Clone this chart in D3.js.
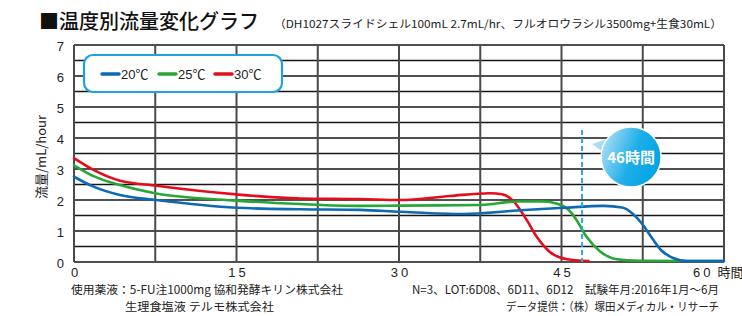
<!DOCTYPE html>
<html>
<head>
<meta charset="utf-8">
<script src="https://cdn.jsdelivr.net/npm/d3@7"></script>
<style>
  body { margin: 0; background: #fff; }
  svg { display: block; font-family: "Liberation Sans", Arial, "Noto Sans CJK JP", sans-serif; }
  .jp { font-family: "Noto Sans CJK JP", sans-serif; }
</style>
</head>
<body>
<div id="chart"></div>
<script>
// 20℃ (blue), 25℃ (green), 30℃ (red): hours vs flow mL/hour
const hours20 = [0, 1.8, 4.25, 7.6, 15, 20.9, 26.4, 30.1, 35.9, 40.9, 45.2, 48.9, 50.6, 51.6, 52.4, 53.3, 54.2, 55.3, 56.6, 60];
const flow20  = [2.75, 2.43, 2.16, 2.0, 1.75, 1.70, 1.68, 1.62, 1.55, 1.66, 1.75, 1.81, 1.76, 1.55, 1.25, 0.80, 0.38, 0.13, 0.03, 0.03];

const hours25 = [0, 1.8, 4.25, 7.6, 15, 20.9, 26.4, 30.1, 37.5, 40.9, 43.3, 44.6, 45.6, 46.4, 47.3, 48.6, 50.1, 52.2, 60];
const flow25  = [3.12, 2.77, 2.48, 2.21, 1.98, 1.87, 1.81, 1.82, 1.84, 1.95, 1.95, 1.88, 1.70, 1.35, 0.82, 0.33, 0.09, 0.04, 0.03];

const hours30 = [0, 1.8, 4.25, 7.6, 15, 20.9, 26.4, 30.1, 34.7, 38.4, 39.6, 40.6, 41.8, 42.7, 43.9, 45.5, 47.5];
const flow30  = [3.35, 2.97, 2.62, 2.46, 2.18, 2.05, 2.03, 2.0, 2.13, 2.22, 2.18, 1.95, 1.35, 0.82, 0.33, 0.09, 0.03];

const seriesNames = ['20℃', '25℃', '30℃'];
const seriesColors = ['#0c6ab4', '#27a737', '#e50c1c'];

const xTicks = [0, 15, 30, 45, 60];
const yTicks = [0, 1, 2, 3, 4, 5, 6, 7];
const markHour = 46.9;   // 46時間 dashed marker
const markLabel = '46時間';

const width = 742, height = 316;
const x = d3.scaleLinear().domain([0, 60]).range([74, 724]);
const y = d3.scaleLinear().domain([0, 7]).range([262, 45]);

const svg = d3.select('#chart').append('svg')
    .attr('width', width)
    .attr('height', height);

// title
svg.append('text')
    .attr('class', 'jp')
    .attr('x', 39).attr('y', 29)
    .attr('font-size', 20).attr('font-weight', 500)
    .attr('fill', '#111')
    .text('■温度別流量変化グラフ');
svg.append('text')
    .attr('class', 'jp')
    .attr('x', 274).attr('y', 28)
    .attr('font-size', 11)
    .attr('fill', '#222')
    .attr('textLength', 448).attr('lengthAdjust', 'spacingAndGlyphs')
    .text('（DH1027スライドシェル100mL 2.7mL/hr、フルオロウラシル3500mg+生食30mL）');

// grid
svg.append('g').selectAll('line')
    .data(d3.range(0, 7.01, 0.5))
    .join('line')
    .attr('x1', x(0)).attr('x2', x(60))
    .attr('y1', d => y(d)).attr('y2', d => y(d))
    .attr('stroke', '#161616').attr('stroke-width', 1.6);

svg.append('g').selectAll('line')
    .data(d3.range(0, 60.01, 7.5))
    .join('line')
    .attr('x1', d => x(d)).attr('x2', d => x(d))
    .attr('y1', y(7)).attr('y2', y(0))
    .attr('stroke', '#4a4a4a').attr('stroke-width', 2);

// y tick labels
svg.append('g').selectAll('text')
    .data(yTicks)
    .join('text')
    .attr('x', 64).attr('y', d => y(d) + 6)
    .attr('text-anchor', 'end')
    .attr('font-size', 13).attr('fill', '#222')
    .text(d => d);

// x tick labels
const xl = svg.append('g').selectAll('text')
    .data(xTicks)
    .join('text')
    .attr('x', d => d === 60 ? x(d) - 31 : x(d) + 2)
    .attr('y', 277)
    .attr('text-anchor', d => d === 60 ? 'start' : 'middle')
    .attr('font-size', 13).attr('fill', '#222')
    .attr('letter-spacing', 3);
xl.append('tspan').text(d => d);
xl.filter(d => d === 60).append('tspan')
    .attr('class', 'jp').attr('letter-spacing', 0).attr('dx', 4)
    .text('時間');

// y axis title
svg.append('text')
    .attr('class', 'jp')
    .attr('transform', 'translate(46,157) rotate(-90)')
    .attr('text-anchor', 'middle')
    .attr('font-size', 13).attr('fill', '#222')
    .text('流量/mL/hour');

// curves
const line = d3.line()
    .x(d => x(d[0]))
    .y(d => y(d[1]))
    .curve(d3.curveMonotoneX);

const series = [
    d3.zip(hours30, flow30),
    d3.zip(hours25, flow25),
    d3.zip(hours20, flow20)
];
const seriesIdx = [2, 1, 0];

svg.append('g').selectAll('path')
    .data(series)
    .join('path')
    .attr('d', line)
    .attr('fill', 'none')
    .attr('stroke', (d, i) => seriesColors[seriesIdx[i]])
    .attr('stroke-width', 2.6)
    .attr('stroke-linecap', 'round');

// 46h marker
svg.append('line')
    .attr('x1', x(markHour)).attr('x2', x(markHour))
    .attr('y1', 130).attr('y2', y(0))
    .attr('stroke', '#2aa6e2').attr('stroke-width', 2)
    .attr('stroke-dasharray', '5,3');

const defs = svg.append('defs');
const grad = defs.append('linearGradient')
    .attr('id', 'bubbleGrad')
    .attr('x1', '0%').attr('y1', '20%').attr('x2', '100%').attr('y2', '60%');
grad.append('stop').attr('offset', '0%').attr('stop-color', '#b4e1f7');
grad.append('stop').attr('offset', '55%').attr('stop-color', '#1eaee8');
grad.append('stop').attr('offset', '100%').attr('stop-color', '#00a3e6');

const bx = x(markHour) + 49, by = 157, br = 30;
const bubble = svg.append('g');
bubble.append('path')
    .attr('d', `M${bx - 39},${by - 13} L${bx - 24},${by - 18} L${bx - 27},${by - 4} Z`)
    .attr('fill', '#a9dcf5');
bubble.append('circle')
    .attr('cx', bx).attr('cy', by).attr('r', br)
    .attr('fill', 'url(#bubbleGrad)')
    .attr('stroke', '#fff').attr('stroke-width', 1.5);
bubble.append('text')
    .attr('class', 'jp')
    .attr('x', bx).attr('y', by + 6)
    .attr('text-anchor', 'middle')
    .attr('font-size', 15).attr('font-weight', 700)
    .attr('fill', '#fff')
    .text(markLabel);

// legend
const legend = svg.append('g');
legend.append('rect')
    .attr('x', 84).attr('y', 55).attr('width', 198).attr('height', 37)
    .attr('rx', 9)
    .attr('fill', '#fff').attr('stroke', '#1ea0e2').attr('stroke-width', 2.2);
const legX = [102, 159, 215];
const items = legend.selectAll('g.item')
    .data(seriesNames)
    .join('g')
    .attr('class', 'item')
    .attr('transform', (d, i) => `translate(${legX[i]},74)`);
items.append('line')
    .attr('x1', 0).attr('x2', 17)
    .attr('stroke', (d, i) => seriesColors[i])
    .attr('stroke-width', 3.5).attr('stroke-linecap', 'round');
items.append('text')
    .attr('x', 19).attr('y', 5)
    .attr('font-size', 13).attr('fill', '#222')
    .text(d => d);

// notes
const notes = [
    {t: '使用薬液：5-FU注1000mg 協和発酵キリン株式会社', x: 71, y: 294, w: 272, a: 'start'},
    {t: '生理食塩液 テルモ株式会社', x: 125, y: 311, w: 149, a: 'start'},
    {t: 'N=3、LOT:6D08、6D11、6D12　試験年月:2016年1月〜6月', x: 412, y: 294, w: 307, a: 'start'},
    {t: 'データ提供：（株）塚田メディカル・リサーチ', x: 506, y: 311, w: 213, a: 'start'}
];
svg.append('g').selectAll('text')
    .data(notes)
    .join('text')
    .attr('class', 'jp')
    .attr('x', d => d.x).attr('y', d => d.y)
    .attr('font-size', 11.5).attr('fill', '#222')
    .attr('textLength', d => d.w).attr('lengthAdjust', 'spacingAndGlyphs')
    .text(d => d.t);
</script>
</body>
</html>
